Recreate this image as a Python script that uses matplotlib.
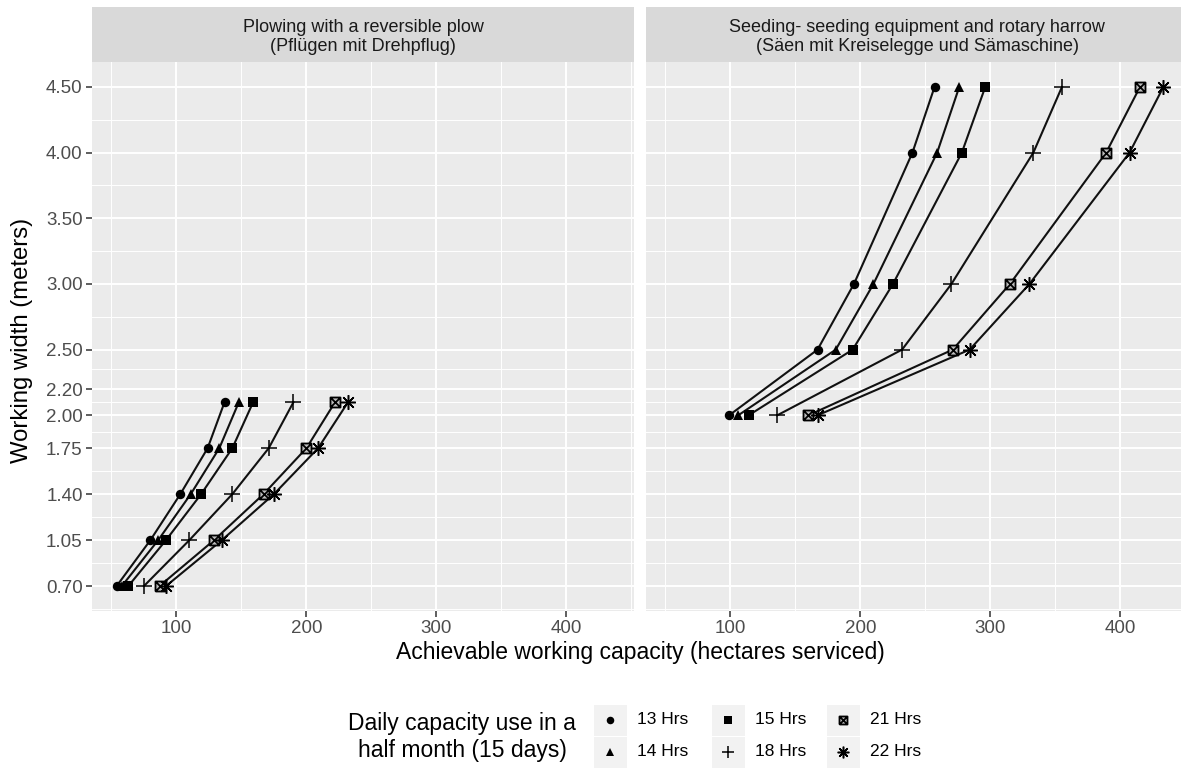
import matplotlib
matplotlib.use("Agg")
import matplotlib.pyplot as plt
from matplotlib.path import Path
from matplotlib.patches import Rectangle
from matplotlib.ticker import FixedLocator, FuncFormatter

plt.rcParams["font.family"] = ["Liberation Sans", "DejaVu Sans"]

# ---- data -------------------------------------------------------------
hour_labels = ["13 Hrs", "14 Hrs", "15 Hrs", "18 Hrs", "21 Hrs", "22 Hrs"]

# Plowing with a reversible plow
plow_width = [0.70, 1.05, 1.40, 1.75, 2.10]
plow_13 = [54, 80, 103, 124, 137]
plow_14 = [58, 86, 111, 133, 148]
plow_15 = [63, 92, 119, 143, 159]
plow_18 = [75, 110, 143, 171, 190]
plow_21 = [87, 129, 167, 200, 222]
plow_22 = [92, 135, 175, 209, 232]

# Seeding with rotary harrow and seed drill
seed_width = [2.0, 2.5, 3.0, 4.0, 4.5]
seed_13 = [99, 167, 195, 240, 257]
seed_14 = [106, 181, 210, 259, 276]
seed_15 = [114, 194, 225, 278, 296]
seed_18 = [136, 232, 270, 333, 355]
seed_21 = [160, 271, 315, 389, 415]
seed_22 = [167, 284, 330, 407, 433]

panel_titles = [
    "Plowing with a reversible plow\n(Pflügen mit Drehpflug)",
    "Seeding- seeding equipment and rotary harrow\n(Säen mit Kreiselegge und Sämaschine)",
]
y_breaks = [0.70, 1.05, 1.40, 1.75, 2.00, 2.20, 2.50, 3.00, 3.50, 4.00, 4.50]
x_breaks = [100, 200, 300, 400]

plow_series = [plow_13, plow_14, plow_15, plow_18, plow_21, plow_22]
seed_series = [seed_13, seed_14, seed_15, seed_18, seed_21, seed_22]

# ---- marker shapes ----------------------------------------------------
square_cross = Path(
    [(-1, -1), (1, -1), (1, 1), (-1, 1), (-1, -1), (-1, -1), (1, 1), (-1, 1), (1, -1)],
    [Path.MOVETO, Path.LINETO, Path.LINETO, Path.LINETO, Path.LINETO,
     Path.MOVETO, Path.LINETO, Path.MOVETO, Path.LINETO],
)
marker_styles = [
    dict(marker="o", markersize=6.8, markerfacecolor="black", markeredgewidth=0),
    dict(marker="^", markersize=7.5, markerfacecolor="black", markeredgewidth=0),
    dict(marker="s", markersize=6.6, markerfacecolor="black", markeredgewidth=0),
    dict(marker="+", markersize=11, markeredgewidth=1.1),
    dict(marker=square_cross, markersize=7.2, markerfacecolor="#BDBDBD", markeredgewidth=1.3),
    dict(marker=(8, 2, 0), markersize=10.5, markeredgewidth=1.1),
]

# ---- figure -----------------------------------------------------------
W, H = 1181, 775
fig = plt.figure(figsize=(W / 100, H / 100), dpi=100)


def px_box(x0, y0, x1, y1):
    return [x0 / W, 1 - y1 / H, (x1 - x0) / W, (y1 - y0) / H]


panel_boxes = [(92, 62, 634, 611), (646, 62, 1188, 611)]
strip_boxes = [(92, 7, 634, 62), (646, 7, 1188, 62)]

all_x = [v for s in plow_series + seed_series for v in s]
all_y = plow_width + seed_width
xr = max(all_x) - min(all_x)
yr = max(all_y) - min(all_y)
xlim = (min(all_x) - 0.05 * xr, max(all_x) + 0.05 * xr)
ylim = (min(all_y) - 0.05 * yr, max(all_y) + 0.05 * yr)

y_minor = [(a + b) / 2 for a, b in zip(y_breaks[:-1], y_breaks[1:])]
y_minor = [y_breaks[0] - (y_breaks[1] - y_breaks[0]) / 2] + y_minor + \
          [y_breaks[-1] + (y_breaks[-1] - y_breaks[-2]) / 2]
x_minor = [x_breaks[0] - 50] + [(a + b) / 2 for a, b in zip(x_breaks[:-1], x_breaks[1:])] + [x_breaks[-1] + 50]

panels = [(plow_width, plow_series), (seed_width, seed_series)]

for i, (widths, series) in enumerate(panels):
    ax = fig.add_axes(px_box(*panel_boxes[i]))
    ax.set_facecolor("#EBEBEB")
    for sp in ax.spines.values():
        sp.set_visible(False)
    ax.set_xlim(*xlim)
    ax.set_ylim(*ylim)
    ax.xaxis.set_major_locator(FixedLocator(x_breaks))
    ax.yaxis.set_major_locator(FixedLocator(y_breaks))
    ax.xaxis.set_minor_locator(FixedLocator(x_minor))
    ax.yaxis.set_minor_locator(FixedLocator(y_minor))
    ax.yaxis.set_major_formatter(FuncFormatter(lambda v, p: f"{v:.2f}"))
    ax.xaxis.set_major_formatter(FuncFormatter(lambda v, p: f"{v:.0f}"))
    ax.grid(which="major", color="white", linewidth=1.4)
    ax.grid(which="minor", color="white", linewidth=0.7)
    ax.set_axisbelow(True)
    ax.tick_params(which="major", length=4.2, width=1.1, color="#333333",
                   labelcolor="#4D4D4D", labelsize=13.5, pad=2.5)
    ax.tick_params(which="minor", length=0)
    if i == 1:
        ax.tick_params(axis="y", which="both", left=False, labelleft=False)

    for vals, st in zip(series, marker_styles):
        ax.plot(vals, widths, color="#111111", linewidth=1.5, zorder=2)
        ax.plot(vals, widths, linestyle="none", color="black", zorder=3, clip_on=False, **st)

    sax = fig.add_axes(px_box(*strip_boxes[i]))
    sax.set_facecolor("#D9D9D9")
    sax.set_xticks([])
    sax.set_yticks([])
    for sp in sax.spines.values():
        sp.set_visible(False)
    sax.text(0.5, 0.46, panel_titles[i], ha="center", va="center", fontsize=13,
             color="#1A1A1A", linespacing=1.15, transform=sax.transAxes)

fig.text(640 / W, 1 - 652 / H, "Achievable working capacity (hectares serviced)",
         ha="center", va="center", fontsize=16.5, color="black")
fig.text(22 / W, 1 - 340 / H, "Working width (meters)", ha="center", va="center",
         rotation=90, fontsize=17.2, color="black")

# ---- legend -----------------------------------------------------------
lax = fig.add_axes([0, 0, 1, 1])
lax.set_xlim(0, W)
lax.set_ylim(H, 0)
lax.axis("off")
lax.text(462, 737, "Daily capacity use in a\nhalf month (15 days)", ha="center",
         va="center", fontsize=16.5, color="black", linespacing=1.2)

col_centers = [610, 728, 843]
row_centers = [720, 752]
key_w, key_h = 33, 31
for k, (lab, st) in enumerate(zip(hour_labels, marker_styles)):
    c, r = k // 2, k % 2
    cx, cy = col_centers[c], row_centers[r]
    lax.add_patch(Rectangle((cx - key_w / 2, cy - key_h / 2), key_w, key_h,
                            facecolor="#F2F2F2", edgecolor="none"))
    lst = dict(st)
    lst["markersize"] = lst["markersize"] * 0.8
    lax.plot([cx], [cy], linestyle="none", color="black", **lst)
    lax.text(cx + 27, cy, lab, ha="left", va="center", fontsize=12.5, color="black")

fig.savefig("out.png", dpi=100)
